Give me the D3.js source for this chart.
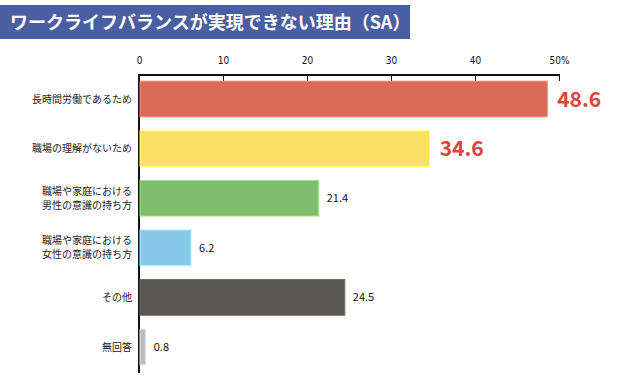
<!DOCTYPE html>
<html>
<head>
<meta charset="utf-8">
<style>
  body { margin: 0; background: #fff; }
  svg { display: block; font-family: "Noto Sans CJK JP", "Noto Sans", sans-serif; }
  .axis-top path, .axis-top line { stroke: #111; shape-rendering: crispEdges; }
  .axis-top .tick text { font-size: 10px; fill: #111; font-family: "Liberation Sans Narrow", "DejaVu Sans Condensed", sans-serif; }
  .cat { font-size: 10px; fill: #222; }
  .val { font-size: 11px; fill: #111; }
  .val-big { font-size: 21px; font-weight: bold; fill: #d8463e; }
</style>
</head>
<body>
<svg id="chart" width="630" height="388"></svg>
<script src="https://d3js.org/d3.v7.min.js"></script>
<script>
// data
var categories = [
  ["長時間労働であるため"],
  ["職場の理解がないため"],
  ["職場や家庭における", "男性の意識の持ち方"],
  ["職場や家庭における", "女性の意識の持ち方"],
  ["その他"],
  ["無回答"]
];
var values = [48.6, 34.6, 21.4, 6.2, 24.5, 0.8];
var barColors = ["#dc6a58", "#f9e063", "#80bd6e", "#87c8ea", "#5a5650", "#bcbcbc"];
var highlight = [true, true, false, false, false, false];
var tickValues = [0, 10, 20, 30, 40, 50];
var title = "ワークライフバランスが実現できない理由（SA）";

var svg = d3.select("#chart");

// title banner
svg.append("rect")
  .attr("x", 0).attr("y", 5)
  .attr("width", 410).attr("height", 34)
  .attr("fill", "#4a5ea2");
svg.append("text")
  .attr("x", 10).attr("y", 23)
  .attr("dy", "0.36em")
  .attr("fill", "#fff")
  .style("font-size", "18px")
  .style("font-weight", "bold")
  .text(title);

var axisY = 74;
var x = d3.scaleLinear().domain([0, 50]).range([139, 559]);
var idx = d3.range(values.length);
var y = d3.scaleBand().domain(idx).range([axisY, 372]).paddingInner(0.28).paddingOuter(0.144);

// top axis
var axis = d3.axisTop(x)
  .tickValues(tickValues)
  .tickSize(-7)
  .tickSizeOuter(0)
  .tickPadding(10)
  .tickFormat(function(d) { return d === 50 ? d + "%" : d; });
var gAxis = svg.append("g")
  .attr("class", "axis-top")
  .attr("transform", "translate(0," + axisY + ")")
  .call(axis);
gAxis.select(".domain").attr("stroke-width", 2);

// left axis line
svg.append("line")
  .attr("x1", x(0)).attr("x2", x(0))
  .attr("y1", axisY).attr("y2", 373)
  .attr("stroke", "#111")
  .attr("stroke-width", 2);

// bars
svg.selectAll(".bar")
  .data(idx)
  .enter()
  .append("rect")
  .attr("class", "bar")
  .attr("x", x(0) + 1)
  .attr("y", function(i) { return y(i); })
  .attr("width", function(i) { return x(values[i]) - x(0) - 1; })
  .attr("height", y.bandwidth())
  .attr("fill", function(i) { return barColors[i]; })
  .attr("stroke", function(i) { return d3.color(barColors[i]).brighter(0.6); })
  .attr("stroke-width", 1);

// value labels
svg.selectAll(".value")
  .data(idx)
  .enter()
  .append("text")
  .attr("class", function(i) { return highlight[i] ? "val-big" : "val"; })
  .attr("x", function(i) { return x(values[i]) + (highlight[i] ? 10 : 8); })
  .attr("y", function(i) { return y(i) + y.bandwidth() / 2; })
  .attr("dy", "0.36em")
  .text(function(i) { return values[i].toFixed(1); });

// category labels
var cats = svg.selectAll(".cat")
  .data(idx)
  .enter()
  .append("text")
  .attr("class", "cat")
  .attr("text-anchor", "end")
  .attr("x", 132)
  .attr("y", function(i) { return y(i) + y.bandwidth() / 2; });
cats.selectAll("tspan")
  .data(function(i) {
    var lines = categories[i];
    return lines.map(function(t, k) { return { t: t, off: (k - (lines.length - 1) / 2) * 14 }; });
  })
  .enter()
  .append("tspan")
  .attr("x", 132)
  .attr("dy", function(d, k) { return k === 0 ? (d.off + 3.6) + "px" : "14px"; })
  .text(function(d) { return d.t; });
</script>
</body>
</html>
